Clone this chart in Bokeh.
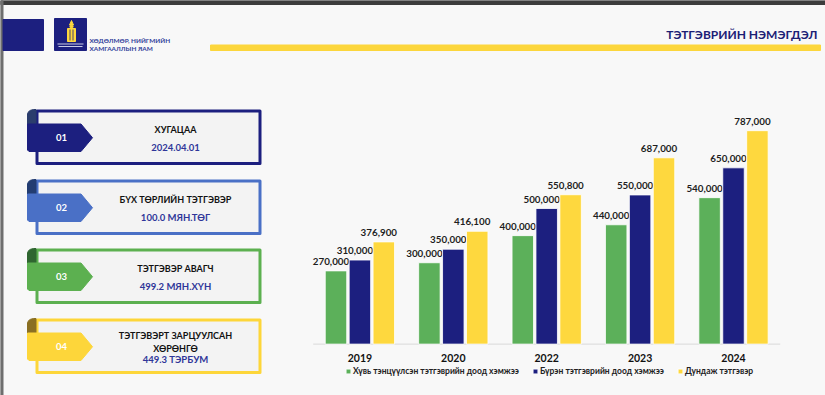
import numpy as np
from bokeh.plotting import figure
from bokeh.models import Range1d
from bokeh.core.properties import value
from bokeh.embed import file_html
from bokeh.resources import INLINE

# ---------------- data ----------------
years = ["2019", "2020", "2022", "2023", "2024"]
min_balanced = [270000, 300000, 400000, 440000, 540000]
min_full = [310000, 350000, 500000, 550000, 650000]
average = [376900, 416100, 550800, 687000, 787000]
series_names = ["Хүвь тэнцүүлсэн тэтгэврийн доод хэмжээ",
                "Бүрэн тэтгэврийн доод хэмжээ",
                "Дундаж тэтгэвэр"]

card_numbers = ["01", "02", "03", "04"]
card_titles = [["ХУГАЦАА"], ["БҮХ ТӨРЛИЙН ТЭТГЭВЭР"], ["ТЭТГЭВЭР АВАГЧ"],
               ["ТЭТГЭВЭРТ ЗАРЦУУЛСАН", "ХӨРӨНГӨ"]]
card_values = ["2024.04.01", "100.0 МЯН.ТӨГ", "499.2 МЯН.ХҮН", "449.3 ТЭРБУМ"]
page_title = "ТЭТГЭВРИЙН НЭМЭГДЭЛ"
org_lines = ["ХӨДӨЛМӨР, НИЙГМИЙН", "ХАМГААЛЛЫН ЯАМ"]

# ---------------- style ----------------
NAVY = "#1c1f7f"
GREEN = "#5cb05a"
YELLOW = "#fed83e"
FONT = value("Lato")

W, H = 825, 395
p = figure(width=W, height=H, x_range=Range1d(0, W), y_range=Range1d(H, 0),
           x_axis_type=None, y_axis_type=None, toolbar_location=None,
           output_backend="svg", min_border=0)
p.grid.visible = False
p.outline_line_color = None
p.background_fill_color = "#f8f8f8"
p.border_fill_color = "#f8f8f8"

p.extra_x_ranges = {"grp": Range1d(-3.848, 4.985)}
p.extra_y_ranges = {"val": Range1d(-189500, 1267000)}


def txt(x, y, s, size, color, align="center", style="bold"):
    p.text(x=[x], y=[y], text=[s], text_font=FONT, text_font_size=f"{size}px",
           text_color=color, text_align=align, text_baseline="middle",
           text_font_style=style)


# ---------------- frame of the slide ----------------
p.quad(left=0, right=W, top=0, bottom=4, color="#3c3c3c")
p.quad(left=0, right=2.5, top=0, bottom=H, color="#6e6e6e")

# ---------------- header ----------------
p.quad(left=2.5, right=43, top=19, bottom=50, color=NAVY)
p.quad(left=54, right=86, top=18, bottom=50, color=NAVY)
# emblem (simplified)
p.patch(x=[69, 71, 73], y=[24.5, 20, 24.5], color=YELLOW)
p.scatter(x=[71], y=[26], size=3.2, color=YELLOW)
p.quad(left=67, right=75, top=28, bottom=41, color=YELLOW)
p.segment(x0=[69.5, 72.5], y0=[29, 29], x1=[69.5, 72.5], y1=[40, 40], color=NAVY, line_width=0.8)
p.segment(x0=[57, 58], y0=[43.5, 46], x1=[83, 82], y1=[43.5, 46], color="#c9cce6", line_width=1)
txt(89, 40, org_lines[0], 6.4, "#31409a", align="left")
txt(89, 48.3, org_lines[1], 6.4, "#31409a", align="left")
p.quad(left=210, right=820, top=44.5, bottom=50, color="#fcd63c")
txt(817, 33.5, page_title, 12, "#1b2075", align="right")

# ---------------- cards ----------------
card_tops = [109, 179, 248, 318]
card_colors = [NAVY, "#4a70c6", "#5cb050", "#fdd63a"]
fold_colors = ["#2b3d6d", "#233d72", "#2f6630", "#8a6f22"]
VAL_COLOR = "#2f3699"
for top, col, fcol, num, titles, val in zip(card_tops, card_colors, fold_colors,
                                            card_numbers, card_titles, card_values):
    bottom = top + 55.5
    p.quad(left=36.5, right=259.5, top=top + 1.5, bottom=bottom - 1.5,
           fill_color="#f3f3f3", line_color=col, line_width=3, line_join="round")
    tt = top + 14.5
    p.patch(x=[27, 35.5, 35.5, 33, 30, 28, 27],
            y=[tt, tt, top, top, top + 0.8, top + 2.2, top + 4.5], color=fcol)
    p.patch(x=[27, 80.5, 92, 80.5, 28.5, 27], y=[tt, tt, tt + 13.75, tt + 27.5, tt + 27.5, tt + 26],
            color=col)
    txt(61, tt + 13.75, num, 9.5, "white")
    if len(titles) == 1:
        txt(175, top + 19.5, titles[0], 9, "#111111")
        txt(175, top + 37.5, val, 9.5, VAL_COLOR)
    else:
        txt(175, top + 16.5, titles[0], 9, "#111111")
        txt(175, top + 29.5, titles[1], 9, "#111111")
        txt(175, top + 41, val, 9.5, VAL_COLOR)

# ---------------- bar chart ----------------
idx = np.arange(len(years))
off = 0.256
bw = 0.23
series = [(min_balanced, GREEN, -off), (min_full, NAVY, 0.0), (average, YELLOW, off)]

p.segment(x0=[-0.5], y0=[0], x1=[4.5], y1=[0], x_range_name="grp", y_range_name="val",
          line_color="#d9d9d9", line_width=1)

for (vals, col, dx), name in zip(series, series_names):
    p.vbar(x=idx + dx, top=vals, bottom=0, width=bw, x_range_name="grp", y_range_name="val",
           fill_color=col, line_color="white", line_width=0.8, legend_label=name)
    p.text(x=idx + dx, y=vals, text=[f"{v:,}" for v in vals], x_range_name="grp",
           y_range_name="val", text_font=FONT, text_font_size="9.8px",
           text_font_style="bold", text_color="#1e1e1e", text_align="center",
           text_baseline="middle", x_offset=-5, y_offset=-9.5)

p.text(x=idx, y=[0] * len(years), text=years, x_range_name="grp", y_range_name="val",
       text_font=FONT, text_font_size="10.5px", text_font_style="bold", text_color="#111111",
       text_align="center", text_baseline="middle", y_offset=13.7)

lg = p.legend[0]
lg.orientation = "horizontal"
lg.location = (345, 19)
lg.padding = 0
lg.margin = 0
lg.spacing = 13
lg.label_standoff = 2
lg.glyph_width = 6
lg.glyph_height = 6
lg.label_height = 10
lg.label_text_font = "Lato"
lg.label_text_font_size = "8.5px"
lg.label_text_font_style = "bold"
lg.label_text_color = "#222222"
lg.background_fill_alpha = 0
lg.border_line_color = None

open("out.html", "w").write(file_html(p, INLINE))
